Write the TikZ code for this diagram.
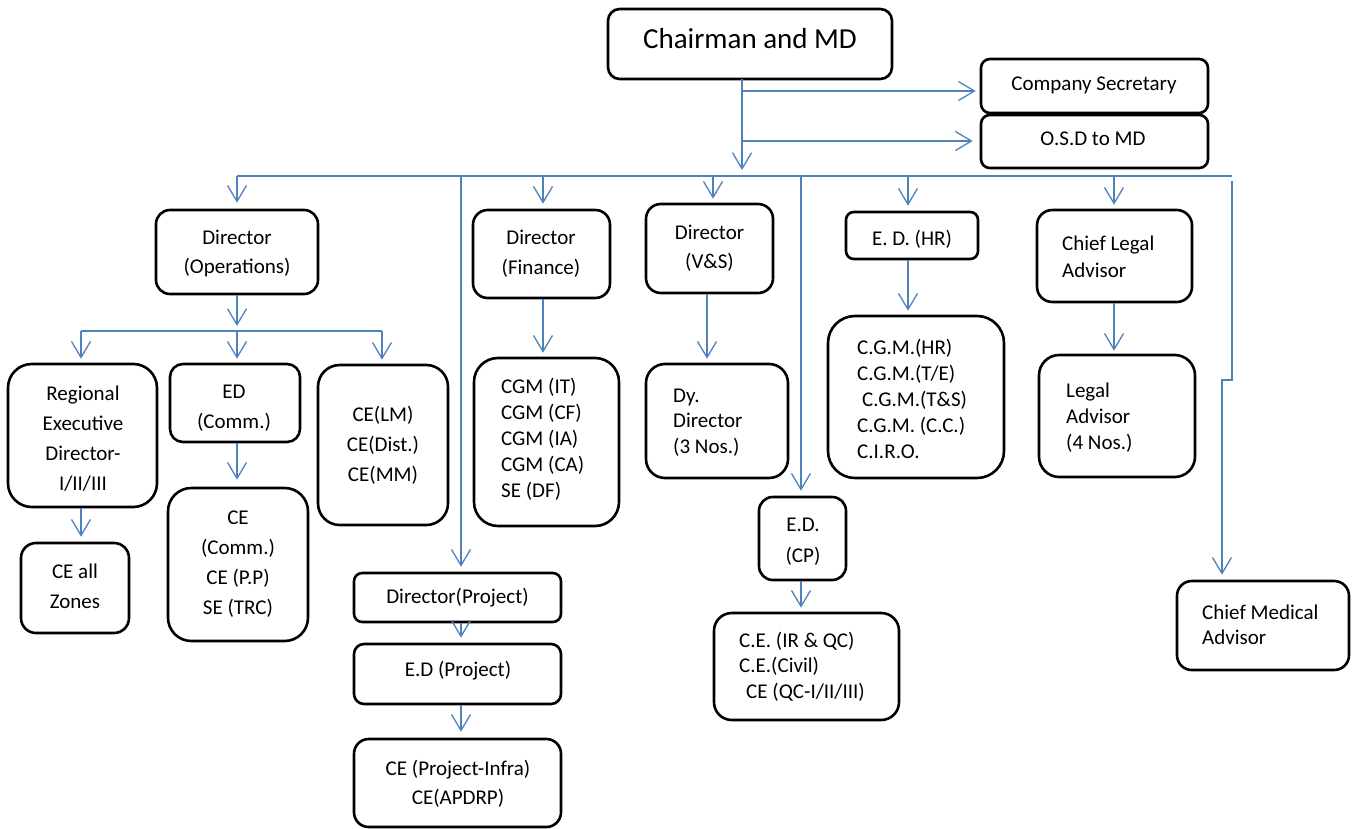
\documentclass[tikz,border=0pt]{standalone}
\usepackage{fontspec}
\setmainfont{Carlito}
\usetikzlibrary{arrows.meta}
\definecolor{lblue}{RGB}{79,129,189}
\tikzset{
  obox/.style={draw=black, line width=2.6pt, rectangle, inner sep=0pt},
  txt/.style={inner sep=0pt, align=center, font=\fontsize{21}{29}\selectfont},
  txtl/.style={inner sep=0pt, align=left, anchor=west, font=\fontsize{21}{26}\selectfont},
  bus/.style={draw=lblue, line width=1.3pt},
  conn/.style={draw=lblue, line width=1.3pt, -{Straight Barb[length=16pt,width=19pt,line width=1.3pt]}},
}
\newcommand\obox[6]{\node[obox, rounded corners=#6pt, minimum width={#4pt-#2pt}, minimum height={#5pt-#3pt}] (#1) at ({(#2+#4)/2},{(#3+#5)/2}) {};}
\begin{document}
\begin{tikzpicture}[x=1pt,y=-1pt]
\useasboundingbox (0,0) rectangle (1354,829);
% boxes
\obox{chair}{608}{9}{892}{79}{11.7}
\obox{cs}{981}{59}{1208}{113}{9}
\obox{osd}{981}{115}{1208}{168}{8.8}
\obox{dops}{156}{210}{318}{294}{14}
\obox{dfin}{473}{210}{610}{298}{14.7}
\obox{dvs}{646}{204}{773}{293}{14.8}
\obox{edhr}{846}{212}{978}{259}{7.8}
\obox{cla}{1037}{210}{1192}{302}{15.3}
\obox{red}{8}{364}{157}{507}{23.8}
\obox{edc}{170}{364}{300}{442}{13}
\obox{celm}{318}{365}{448}{525}{21.7}
\obox{cgm}{474}{358}{619}{526}{24}
\obox{dyd}{646}{364}{788}{478}{19}
\obox{hr}{828}{316}{1004}{478}{27}
\obox{la}{1039}{355}{1195}{477}{20.3}
\obox{cez}{21}{543}{129}{633}{15}
\obox{cec}{168}{488}{308}{641}{23.3}
\obox{dp}{354}{573}{561}{622}{8.2}
\obox{edp}{354}{644}{561}{704}{10}
\obox{cei}{354}{739}{561}{827}{14.7}
\obox{edcp}{759}{497}{846}{580}{13.8}
\obox{cel}{714}{613}{899}{720}{17.8}
\obox{cma}{1177}{581}{1349}{670}{14.8}
% texts
\node[txt, font=\fontsize{29}{35}\selectfont] (chair-t) at (750,42) {\strut Chairman and MD};
\node[txt] (cs-t) at (1094,85) {\strut Company Secretary};
\node[txt] (osd-t) at (1093,140) {\strut O.S.D to MD};
\node[txt] (dops-t) at (237,253.5) {\strut Director\\\strut (Operations)};
\node[txt, font=\fontsize{21}{30}\selectfont] (dfin-t) at (541,253.5) {\strut Director\\\strut (Finance)};
\node[txt] (dvs-t) at (709.5,248.5) {\strut Director\\\strut (V\&S)};
\node[txt] (edhr-t) at (912,240) {\strut E. D. (HR)};
\node[txtl, font=\fontsize{21}{27}\selectfont] (cla-t) at (1062,258.5) {\strut Chief Legal\\\strut Advisor};
\node[txt, font=\fontsize{21}{30}\selectfont] (red-t) at (83,439.5) {\strut Regional\\\strut Executive\\\strut Director-\\\strut I/II/III};
\node[txt, font=\fontsize{21}{30}\selectfont] (edc-t) at (234,407) {\strut ED\\\strut (Comm.)};
\node[txt, font=\fontsize{21}{30}\selectfont] (cez-t) at (75,587.5) {\strut CE all\\\strut Zones};
\node[txt, font=\fontsize{21}{30}\selectfont] (cec-t) at (238,563) {\strut CE\\\strut (Comm.)\\\strut CE (P.P)\\\strut SE (TRC)};
\node[txt, font=\fontsize{21}{30}\selectfont] (celm-t) at (383,445) {\strut CE(LM)\\\strut CE(Dist.)\\\strut CE(MM)};
\node[txtl] (cgm-t) at (501,440.5) {\strut CGM (IT)\\\strut CGM (CF)\\\strut CGM (IA)\\\strut CGM (CA)\\\strut SE (DF)};
\node[txtl, font=\fontsize{21}{25.5}\selectfont] (dyd-t) at (673,422.5) {\strut Dy.\\\strut Director\\\strut (3 Nos.)};
\node[txtl] (hr-t) at (857,401.5) {\strut C.G.M.(HR)\\\strut C.G.M.(T/E)\\\strut\hspace*{5pt}C.G.M.(T\&S)\\\strut C.G.M. (C.C.)\\\strut C.I.R.O.};
\node[txtl] (la-t) at (1066,418) {\strut Legal\\\strut Advisor\\\strut (4 Nos.)};
\node[txt] (dp-t) at (457.5,598) {\strut Director(Project)};
\node[txt] (edp-t) at (458,671) {\strut E.D (Project)};
\node[txt] (cei-t) at (458,784.5) {\strut CE (Project-Infra)\\\strut CE(APDRP)};
\node[txt, font=\fontsize{21}{31}\selectfont] (edcp-t) at (803,540.5) {\strut E.D.\\\strut (CP)};
\node[txtl, font=\fontsize{21}{25.5}\selectfont] (cel-t) at (739,667.5) {\strut C.E. (IR \& QC)\\\strut C.E.(Civil)\\\strut\hspace*{7pt}CE (QC-I/II/III)};
\node[txtl, font=\fontsize{21}{25}\selectfont] (cma-t) at (1202,626.5) {\strut Chief Medical\\\strut Advisor};
% chairman connectors
\coordinate (c0) at (742,79);
\coordinate (c1) at (742,91);
\coordinate (c2) at (742,141);
\coordinate (c3) at (742,170);
\draw[conn] (c0) -- (c3);
\draw[conn, shorten >=4pt] (c1) -- (c1 -| cs.west);
\draw[conn, shorten >=7pt] (c2) -- (c2 -| osd.west);
% main bus
\coordinate (bL) at (237,176);
\coordinate (bR) at (1232,176);
\coordinate (b1) at (461,176);
\coordinate (b2) at (543,176);
\coordinate (b3) at (713,176);
\coordinate (b4) at (801,176);
\coordinate (b5) at (908,176);
\coordinate (b6) at (1114,176);
\coordinate (b7) at (1232,181);
\coordinate (b8) at (1232,380);
\coordinate (b9) at (1222,380);
\coordinate (v1) at (707,293);
\draw[bus] (bL) -- (bR);
\draw[conn, shorten >=6pt] (bL) -- (bL |- dops.north);
\draw[conn, shorten >=5pt] (b1) -- (b1 |- dp.north);
\draw[conn, shorten >=5pt] (b2) -- (b2 |- dfin.north);
\draw[conn, shorten >=4pt] (b3) -- (b3 |- dvs.north);
\draw[conn, shorten >=5pt] (b4) -- (b4 |- edcp.north);
\draw[conn, shorten >=5pt] (b5) -- (b5 |- edhr.north);
\draw[conn, shorten >=4pt] (b6) -- (b6 |- cla.north);
\draw[conn, shorten >=5pt] (b7) -- (b8) -- (b9) -- (b9 |- cma.north);
% operations sub-tree
\coordinate (s0) at (237,331);
\coordinate (sL) at (81,331);
\coordinate (sR) at (382,331);
\draw[conn, shorten >=5pt] (dops.south) -- (s0);
\draw[bus] (sL) -- (sR);
\draw[conn, shorten >=4pt] (sL) -- (sL |- red.north);
\draw[conn, shorten >=4pt] (s0) -- (s0 |- edc.north);
\draw[conn, shorten >=4pt] (sR) -- (sR |- celm.north);
\draw[conn, shorten >=5pt] (red.south -| sL) -- (sL |- cez.north);
\draw[conn, shorten >=7pt] (edc.south -| s0) -- (s0 |- cec.north);
% other vertical connectors
\draw[conn, shorten >=4pt] (dfin.south -| b2) -- (b2 |- cgm.north);
\draw[conn, shorten >=4pt] (dvs.south -| v1) -- (v1 |- dyd.north);
\draw[conn, shorten >=4pt] (edhr.south -| b5) -- (b5 |- hr.north);
\draw[conn, shorten >=3pt] (cla.south -| b6) -- (b6 |- la.north);
\draw[conn, shorten >=5pt] (dp.south -| b1) -- (b1 |- edp.north);
\draw[conn, shorten >=6pt] (edp.south -| b1) -- (b1 |- cei.north);
\draw[conn, shorten >=4pt] (edcp.south -| b4) -- (b4 |- cel.north);
\end{tikzpicture}
\end{document}
